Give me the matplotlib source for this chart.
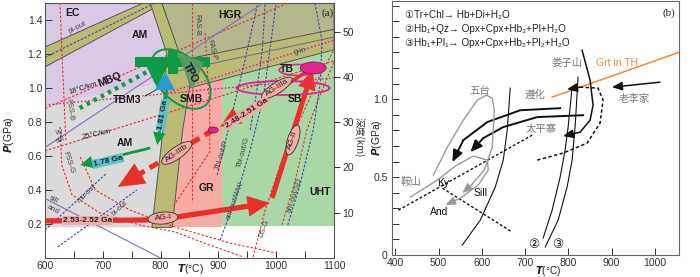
import numpy as np
import matplotlib
matplotlib.use('Agg')
import matplotlib.pyplot as plt
from matplotlib.patches import Polygon, Ellipse, FancyArrowPatch
from matplotlib.transforms import Affine2D, ScaledTranslation

plt.rcParams['font.family'] = ['Liberation Sans', 'DejaVu Sans', 'Noto Sans CJK SC']
plt.rcParams['axes.unicode_minus'] = False

# ======================= Panel (a) data =======================
T_LIM_A = (600, 1100)
P_LIM_A = (0.0, 1.5)
DEPTH_LIM = (0, 56.3)
xticks_a = [600, 700, 800, 900, 1000, 1100]
xminor_a = [650, 750, 850, 950, 1050]
yticks_a = [0.2, 0.4, 0.6, 0.8, 1.0, 1.2, 1.4]
depth_ticks = [10, 20, 30, 40, 50]

# facies fields
purple_T = [600, 600, 782, 811, 806]
purple_P = [0.90, 1.50, 1.50, 1.20, 1.03]
gray_T = [600, 600, 806, 804, 785]
gray_P = [0.18, 0.90, 1.03, 0.75, 0.18]
gr_T = [810, 906, 906, 810]
gr_P = [0.18, 0.18, 1.10, 1.10]
uht_T = [906, 1100, 1100, 906]
uht_P = [0.19, 0.19, 1.30, 1.30]
hgr_T = [802, 1100, 1100, 835]
hgr_P = [1.50, 1.50, 1.34, 1.16]
gin_T = [816, 1100, 1100, 816]
gin_P = [1.15, 1.345, 1.225, 0.97]
plout_T = [600, 770, 805, 600]
plout_P = [1.241, 1.50, 1.50, 1.124]
vband_T = [782, 811, 806, 804, 785, 820, 838, 851, 835, 802]
vband_P = [1.50, 1.20, 1.00, 0.75, 0.18, 0.18, 0.75, 1.02, 1.18, 1.50]

# red dotted reaction / geotherm lines
fssb_T = [626, 629, 633, 636]
fssb_P = [1.50, 1.224, 0.929, 0.694]
fssg_T = [626, 629, 647, 695, 764, 825, 885, 943]
fssg_P = [0.771, 0.547, 0.371, 0.265, 0.194, 0.153, 0.076, 0.006]
r5_T = [661, 687, 747, 825, 920, 1001]
r5_P = [0.594, 0.40, 0.282, 0.182, 0.088, 0.029]
g18_T = [600, 1020]
g18_P = [0.88, 1.50]
g25_T = [600, 1100]
g25_P = [0.63, 1.16]
fasb_T = [854, 854]
fasb_P = [1.50, 0.33]
fasp_T = [877, 885, 885, 821]
fasp_P = [1.324, 0.871, 0.624, 0.30]
dsg_T = [960, 981, 1010, 1041, 1076, 1100]
dsg_P = [0.006, 0.282, 0.576, 0.812, 1.076, 1.224]
r9_T = [1010, 1033, 1053, 1076, 1100]
r9_P = [0.194, 0.459, 0.753, 0.959, 1.153]
# magenta dotted
m1_T = [600, 1100]
m1_P = [0.90, 1.06]
m2_T = [816, 1100]
m2_P = [0.976, 1.282]
# blue dashed
bpl_T = [600, 790]
bpl_P = [1.18, 1.50]
tbip_T = [898, 917, 946, 968]
tbip_P = [0.488, 0.753, 1.165, 1.50]
tbig_T = [955, 964, 976, 981]
tbig_P = [0.753, 0.929, 1.224, 1.50]
amww_T = [903, 929, 955, 977, 989, 1000]
amww_P = [0.106, 0.341, 0.635, 0.929, 1.224, 1.50]
amsd_T = [1020, 1041, 1064, 1077, 1079, 1067]
amsd_P = [0.194, 0.429, 0.753, 1.047, 1.282, 1.50]
mu_T = [600, 707]
mu_P = [0.165, 0.50]
bi_T = [622, 759]
bi_P = [0.065, 0.40]
gin_line_T = [816, 1100]
gin_line_P = [1.09, 1.30]
# purple thin lines
kysill_T = [600, 978]
kysill_P = [0.65, 1.50]
silland_T = [600, 800]
silland_P = [0.35, 0.0]

# green symbols
mbq_T = [660, 776]
mbq_P = [0.882, 1.094]
tpo_bar_T = [756, 885, 885, 756]
tpo_bar_P = [1.182, 1.182, 1.124, 1.124]
tpo_vbar_T = [813, 830, 830, 813]
tpo_vbar_P = [1.224, 1.224, 1.08, 1.08]
tpo_tri_T = [776, 811, 794]
tpo_tri_P = [1.124, 1.124, 1.0]
tpo_dark_T = [828, 875, 855]
tpo_dark_P = [1.21, 1.15, 0.99]
tbm3_T = [790, 825, 808]
tbm3_P = [0.988, 0.988, 1.094]
green_ell = (835, 1.053)
arr181_T = [811, 794]
arr181_P = [0.988, 0.665]
arr178_T = [782, 661]
arr178_P = [0.647, 0.547]

# red P-T paths
agi_T = [600, 782, 816, 989]
agi_P = [0.218, 0.224, 0.235, 0.324]
agii_T = [993, 1063]
agii_P = [0.353, 1.106]
agiiia_T = [1063, 903]
agiiia_P = [1.118, 0.771]
agiiib_T = [891, 726]
agiiib_P = [0.753, 0.418]

# ellipses (centre T, P)
tb_fill = (1064, 1.118)
tb_ring = (1038, 1.106)
sb_ring = (1012, 1.0)
small_mag = (891, 0.753)

# ======================= Panel (b) data =======================
T_LIM_B = (392, 1056)
P_LIM_B = (0.0, 1.63)
xticks_b = [400, 500, 600, 700, 800, 900, 1000]
yticks_b = [0, 0.5, 1.0]
yticklabels_b = ['0', '0.5', '1.0']
yminor_b = [0.1, 0.2, 0.3, 0.4, 0.6, 0.7, 0.8, 0.9, 1.1, 1.2, 1.3, 1.4, 1.5, 1.6]

grt_T = [762.5, 1056]
grt_P = [1.013, 1.301]
re1_T = [554.7, 596.3, 630.9, 649.4, 658.6, 665.5]
re1_P = [0.064, 0.224, 0.436, 0.609, 0.801, 1.071]
re2_T = [741.7, 762.5, 781, 792.5, 799.5, 808.7]
re2_P = [0.109, 0.288, 0.5, 0.673, 0.821, 1.077]
re3_T = [746.4, 776.4, 797.1, 808.7, 815.6, 822.5]
re3_P = [0.051, 0.224, 0.436, 0.609, 0.821, 1.141]
lzs_T = [831.8, 850.3, 857.2, 850.3, 827.2, 787.9]
lzs_P = [1.314, 1.122, 0.962, 0.865, 0.788, 0.763]
zh_T = [781, 688.6, 612.4, 557, 531.6]
zh_P = [0.942, 0.929, 0.853, 0.737, 0.596]
tpz_T = [834.1, 727.9, 649.4, 603.2, 573.2]
tpz_P = [0.897, 0.885, 0.821, 0.75, 0.66]
llj_T = [1011.9, 901]
llj_P = [1.109, 1.077]
dash_T = [727.9, 787.9, 843.3, 873.3, 880.3, 868.7, 827.2, 797.1]
dash_P = [0.609, 0.654, 0.718, 0.846, 0.994, 1.071, 1.077, 1.064]
kysill_b_T = [406.9, 716.3]
kysill_b_P = [0.288, 0.769]
kyand_b_T = [508.5, 670.2]
kyand_b_P = [0.429, 0.147]
wt_T = [487.7, 520.1, 557, 589.3, 610.1, 624, 628.6, 624, 605.5, 573.2, 554.7]
wt_P = [0.513, 0.692, 0.865, 0.994, 1.026, 1.006, 0.929, 0.692, 0.545, 0.442, 0.397]
as_T = [434.6, 497, 538.5, 580.1, 612.4, 614.7, 591.6, 550.1, 515.5]
as_P = [0.372, 0.481, 0.571, 0.635, 0.609, 0.545, 0.449, 0.365, 0.321]

# ======================= colours =======================
C_PURPLE = '#D9C9E5'
C_GRAY = '#DADADA'
C_PINK = '#F6ABA5'
C_GREEN = '#A8D8A6'
C_OLIVE = '#BBBA74'
C_HGR = '#B4B78C'
C_RED = '#E8302A'
C_MAG = '#E4238C'
C_BLUE = '#4B3FA6'
C_GRN = '#0F9A48'
C_CYAN = '#5BC5C9'
C_PBOX = '#F4AAA6'
C_LBLUE = '#2A9AD8'
C_EDGE = '#555555'

fig = plt.figure(figsize=(7.0, 2.77), dpi=100)
axA = fig.add_axes([45 / 700, 19 / 277, 289 / 700, 255 / 277])
axB = fig.add_axes([392 / 700, 22 / 277, 287 / 700, 254 / 277])

axA.set_xlim(*T_LIM_A)
axA.set_ylim(*P_LIM_A)
axB.set_xlim(*T_LIM_B)
axB.set_ylim(*P_LIM_B)


def poly(ax, T, P, fc, ec='none', lw=0.0, z=1, alpha=1.0):
    ax.add_patch(Polygon(np.column_stack([T, P]), closed=True, fc=fc, ec=ec,
                         lw=lw, zorder=z, alpha=alpha))


def px_ellipse(ax, c, w, h, ang, fc, ec, lw, z):
    tr = Affine2D() + ScaledTranslation(c[0], c[1], ax.transData)
    ax.add_patch(Ellipse((0, 0), w, h, angle=ang, transform=tr, fc=fc, ec=ec,
                         lw=lw, zorder=z))


def simple_arrow(ax, p0, p1, color, tail, hl, hw, z=6):
    ax.add_patch(FancyArrowPatch(p0, p1, arrowstyle=f'simple,head_length={hl},head_width={hw},tail_width={tail}',
                                 mutation_scale=1, fc=color, ec='none', lw=0, zorder=z,
                                 shrinkA=0, shrinkB=0))


def head_arrow(ax, p0, p1, color, lw, hl, hw, z=6):
    ax.add_patch(FancyArrowPatch(p0, p1, arrowstyle=f'-|>,head_length={hl},head_width={hw}',
                                 mutation_scale=1, color=color, lw=lw, zorder=z,
                                 shrinkA=0, shrinkB=0))


# ---------------- fields ----------------
poly(axA, purple_T, purple_P, C_PURPLE)
poly(axA, gray_T, gray_P, C_GRAY)
poly(axA, gr_T, gr_P, C_PINK)
poly(axA, uht_T, uht_P, C_GREEN)
poly(axA, hgr_T, hgr_P, C_HGR, ec=C_EDGE, lw=0.7)
poly(axA, gin_T, gin_P, C_OLIVE, ec=C_EDGE, lw=0.7, z=1.5)
poly(axA, plout_T, plout_P, C_OLIVE, ec=C_EDGE, lw=0.7, z=1.5)
poly(axA, vband_T, vband_P, C_OLIVE, ec=C_EDGE, lw=0.7, z=1.6)

# ---------------- lines ----------------
rd = dict(color=C_RED, lw=0.8, dashes=(2.2, 1.6), zorder=3)
for T, P in [(fssb_T, fssb_P), (fssg_T, fssg_P), (r5_T, r5_P), (g18_T, g18_P),
             (g25_T, g25_P), (fasb_T, fasb_P), (fasp_T, fasp_P), (dsg_T, dsg_P), (r9_T, r9_P)]:
    axA.plot(T, P, **rd)
md = dict(color=C_MAG, lw=1.0, dashes=(1.2, 1.4), zorder=3)
axA.plot(m1_T, m1_P, **md)
axA.plot(m2_T, m2_P, **md)
bd = dict(color=C_BLUE, lw=0.8, dashes=(2.2, 1.4), zorder=3)
for T, P in [(bpl_T, bpl_P), (tbip_T, tbip_P), (tbig_T, tbig_P), (amww_T, amww_P),
             (amsd_T, amsd_P), (mu_T, mu_P), (bi_T, bi_P)]:
    axA.plot(T, P, **bd)
axA.plot(gin_line_T, gin_line_P, color='#6A6A8A', lw=0.7, zorder=3)
axA.plot(kysill_T, kysill_P, color='#8270C4', lw=0.8, zorder=3)
axA.plot(silland_T, silland_P, color='#8270C4', lw=0.8, zorder=3)

# ---------------- green symbols ----------------
axA.plot(mbq_T, mbq_P, color=C_GRN, lw=3.2, dashes=(0.8, 1.0), zorder=4)
px_ellipse(axA, green_ell, 44, 72, 45, 'none', C_GRN, 1.4, 5)
poly(axA, tpo_bar_T, tpo_bar_P, C_GRN, z=5)
poly(axA, tpo_vbar_T, tpo_vbar_P, C_GRN, z=5)
poly(axA, tpo_tri_T, tpo_tri_P, C_GRN, z=5)
poly(axA, tpo_dark_T, tpo_dark_P, '#5E9A68', z=5.2, alpha=0.9)
poly(axA, tbm3_T, tbm3_P, C_LBLUE, z=5.1)
axA.plot([773, 795], [0.953, 0.994], color='#222222', lw=0.6, zorder=5)
simple_arrow(axA, (arr181_T[0], arr181_P[0]), (arr181_T[1], arr181_P[1]), C_GRN, 2.0, 9, 9)
simple_arrow(axA, (arr178_T[0], arr178_P[0]), (arr178_T[1], arr178_P[1]), C_GRN, 2.0, 9, 9)

# ---------------- red paths ----------------
axA.plot(agi_T[:3], agi_P[:3], color=C_RED, lw=3.8, solid_capstyle='butt', zorder=6)
simple_arrow(axA, (agi_T[2], agi_P[2]), (agi_T[3], agi_P[3]), C_RED, 3.8, 16, 15)
simple_arrow(axA, (agii_T[0], agii_P[0]), (agii_T[1], agii_P[1]), C_RED, 3.6, 14, 13)
simple_arrow(axA, (agiiia_T[0], agiiia_P[0]), (agiiia_T[1], agiiia_P[1]), C_RED, 2.6, 15, 13)
# dashed AG-IIIb
mid_T = agiiib_T[0] + 0.72 * (agiiib_T[1] - agiiib_T[0])
mid_P = agiiib_P[0] + 0.72 * (agiiib_P[1] - agiiib_P[0])
axA.plot([agiiib_T[0], mid_T], [agiiib_P[0], mid_P], color=C_RED, lw=3.6,
         dashes=(2.0, 1.2), zorder=6)
simple_arrow(axA, (mid_T, mid_P), (agiiib_T[1], agiiib_P[1]), C_RED, 3.6, 19, 17)

# ellipses
px_ellipse(axA, sb_ring, 93, 14, 0, 'none', C_MAG, 1.3, 6.5)
px_ellipse(axA, tb_ring, 38, 11, 0, 'none', C_MAG, 1.2, 6.5)
px_ellipse(axA, tb_fill, 26, 12, 0, C_MAG, '#7a1050', 0.5, 6.6)
px_ellipse(axA, small_mag, 10, 6, 0, C_MAG, '#7a1050', 0.5, 6.6)


def label_ell(text, c, w, h, ang):
    px_ellipse(axA, c, w, h, ang, C_PBOX, '#333333', 0.6, 7)
    axA.text(c[0], c[1], text, rotation=ang, ha='center', va='center', fontsize=6,
             color='#222222', zorder=8, rotation_mode='anchor')


label_ell('AG-I', (804, 0.235), 30, 12, 5)
label_ell('AG-II', (1029, 0.694), 31, 11, 72)
label_ell('AG-IIIa', (1001, 1.0), 36, 11, 33)
label_ell('AG-IIIb', (828, 0.618), 36, 12, 35)

# age labels in boxes
axA.text(673, 0.218, '2.53-2.52 Ga', fontsize=6, fontweight='bold', ha='center', va='center',
         color='#222222', zorder=8,
         bbox=dict(boxstyle='square,pad=0.12', fc=C_PBOX, ec='none'))
axA.text(949, 0.853, '2.48-2.51 Ga', fontsize=6, fontweight='bold', ha='center', va='center',
         rotation=33, rotation_mode='anchor', color='#222222', zorder=8,
         bbox=dict(boxstyle='square,pad=0.12', fc=C_PBOX, ec='none'))
axA.text(804, 0.841, '1.81 Ga', fontsize=6, fontweight='bold', ha='center', va='center',
         rotation=80, rotation_mode='anchor', color='#222222', zorder=8,
         bbox=dict(boxstyle='square,pad=0.12', fc=C_CYAN, ec='none'))
axA.text(709, 0.571, '1.78 Ga', fontsize=6, fontweight='bold', ha='center', va='center',
         rotation=13, rotation_mode='anchor', color='#222222', zorder=8,
         bbox=dict(boxstyle='square,pad=0.12', fc=C_CYAN, ec='none'))

# field / locality labels
bold_labels = [('EC', 648, 1.441, 0), ('AM', 764, 1.312, 0), ('HGR', 920, 1.429, 0),
               ('AM', 738, 0.676, 0), ('GR', 880, 0.412, 0), ('UHT', 1076, 0.388, 0),
               ('SMB', 854, 0.935, 0), ('TPO', 851, 1.088, -62), ('TB', 1019, 1.112, 0),
               ('SB', 1032, 0.935, 0), ('TBM3', 742, 0.929, 0), ('MBQ', 712, 1.047, 22)]
for s, T, P, r in bold_labels:
    axA.text(T, P, s, fontsize=7.5, fontweight='bold', ha='center', va='center', rotation=r,
             rotation_mode='anchor', color='#1a1a1a', zorder=9)

small_labels = [('18°C/km', 666, 1.0, 17, '#222222'), ('25°C/km', 690, 0.724, 12, '#222222'),
                ('pl-out', 657, 1.353, 27, '#444444'), ('FSS-B', 643, 0.87, -82, '#444444'),
                ('FSS-G', 640, 0.56, -72, '#444444'), ('ky', 626, 0.742, 22, '#444444'),
                ('sill', 626, 0.694, 22, '#444444'), ('sill', 614, 0.341, -28, '#444444'),
                ('and', 614, 0.282, -28, '#444444'), ('mu-out', 673, 0.382, 45, '#444444'),
                ('bi-out', 730, 0.294, 42, '#444444'), ('FAS-B', 863, 1.37, -90, '#444444'),
                ('FAS-P', 889, 1.224, -75, '#444444'), ('g-in', 1041, 1.218, 13, '#444444'),
                ('Tbi-out/P', 906, 0.606, 72, '#444444'), ('Tbi-out/G', 944, 0.624, 75, '#444444'),
                ('am-out/WW', 929, 0.341, 70, '#444444'), ('am-out/SD', 1032, 0.371, 72, '#444444'),
                ('DS-G', 979, 0.176, 70, '#444444')]
for s, T, P, r, c in small_labels:
    axA.text(T, P, s, fontsize=5.5, ha='center', va='center', rotation=r,
             rotation_mode='anchor', color=c, zorder=9)
axA.text(1088, 1.441, '(a)', fontsize=8, family='Liberation Serif', ha='center', va='center',
         color='#222222', zorder=9)

# axes styling (a)
axA.set_xticks(xticks_a)
axA.set_xticks(xminor_a, minor=True)
axA.set_yticks(yticks_a)
axA.set_yticklabels([f'{v:.1f}' for v in yticks_a])
axA.tick_params(axis='both', which='both', direction='in', length=5, width=0.7,
                labelsize=7.5, colors='#333333', pad=2)
axA.tick_params(axis='y', right=False)
for sp in axA.spines.values():
    sp.set_color('#555555')
    sp.set_linewidth(0.8)
axA2 = axA.twinx()
axA2.set_ylim(*DEPTH_LIM)
axA2.set_yticks(depth_ticks)
axA2.tick_params(axis='y', direction='out', length=4, width=0.7, labelsize=7.5,
                 colors='#333333', pad=2)
for sp in axA2.spines.values():
    sp.set_visible(False)

fig.text(191 / 700, 1 - 269 / 277, r'$\mathbfit{T}$(°C)', fontsize=7.5, ha='center', va='center',
         color='#222222')
fig.text(9 / 700, 1 - 135 / 277, r'$\mathbfit{P}$(GPa)', fontsize=7.5, ha='center', va='center',
         rotation=90, color='#222222')
fig.text(359 / 700, 1 - 137 / 277, '深度(km)', fontsize=7, ha='center', va='center',
         rotation=270, color='#333333', family=['Noto Sans CJK SC', 'DejaVu Sans'])

# ======================= Panel (b) drawing =======================
axB.plot(grt_T, grt_P, color='#F0883A', lw=1.1, zorder=3)
for T, P in [(re1_T, re1_P), (re2_T, re2_P), (re3_T, re3_P)]:
    axB.plot(T, P, color='#111111', lw=0.8, zorder=3)
axB.plot(kysill_b_T, kysill_b_P, color='#111111', lw=1.0, dashes=(2, 1.5), zorder=3)
axB.plot(kyand_b_T, kyand_b_P, color='#111111', lw=1.0, dashes=(2, 1.5), zorder=3)


def path_arrow(ax, T, P, color, lw, hl, hw, dashes=None):
    kw = dict(color=color, lw=lw, zorder=4)
    if dashes:
        kw['dashes'] = dashes
    ax.plot(T[:-1], P[:-1], **kw)
    head_arrow(ax, (T[-2], P[-2]), (T[-1], P[-1]), color, lw, hl, hw, z=4)


path_arrow(axB, lzs_T, lzs_P, '#111111', 1.1, 6, 2.6)
path_arrow(axB, zh_T, zh_P, '#111111', 1.4, 7, 3)
path_arrow(axB, tpz_T, tpz_P, '#111111', 1.4, 7, 3)
path_arrow(axB, llj_T, llj_P, '#111111', 1.1, 6, 2.6)
path_arrow(axB, dash_T, dash_P, '#111111', 1.1, 6, 2.6, dashes=(2.2, 1.6))
path_arrow(axB, wt_T, wt_P, '#9A9A9A', 1.0, 6, 2.5)
path_arrow(axB, as_T, as_P, '#9A9A9A', 1.0, 6, 2.5)

eqs = ['①Tr+Chl→ Hb+Di+H₂O', '②Hb₁+Qz→ Opx+Cpx+Hb₂+Pl+H₂O', '③Hb₁+Pl₁→ Opx+Cpx+Hb₂+Pl₂+H₂O']
for i, s in enumerate(eqs):
    axB.text(423, 1.538 - i * 0.09, s, fontsize=7.2, ha='left', va='center', color='#222222',
             family=['Liberation Sans', 'DejaVu Sans', 'Noto Sans CJK SC'])
cn = [('娄子山', 797, 1.23), ('遵化', 723, 1.03), ('老李家', 952, 1.0), ('太平寨', 737, 0.81),
      ('五台', 596, 1.05), ('鞍山', 437, 0.47)]
for s, T, P in cn:
    axB.text(T, P, s, fontsize=7.5, ha='center', va='center', color='#7a7a7a',
             family=['Noto Sans CJK SC', 'DejaVu Sans'])
axB.text(913, 1.23, 'Grt in TH', fontsize=7.5, color='#F0883A', ha='center', va='center')
for s, T, P in [('Ky', 510, 0.465), ('Sill', 597, 0.40), ('And', 500, 0.275)]:
    axB.text(T, P, s, fontsize=7.5, color='#111111', ha='center', va='center')
axB.text(720, 0.065, '②', fontsize=9, ha='center', va='center', color='#111111',
         family=['DejaVu Sans', 'Noto Sans CJK SC'])
axB.text(776, 0.065, '③', fontsize=9, ha='center', va='center', color='#111111',
         family=['DejaVu Sans', 'Noto Sans CJK SC'])
axB.text(1033, 1.55, '(b)', fontsize=8, family='Liberation Serif', ha='center', va='center',
         color='#222222')

axB.set_xticks(xticks_b)
axB.set_yticks(yticks_b)
axB.set_yticklabels(yticklabels_b)
axB.set_yticks(yminor_b, minor=True)
axB.tick_params(axis='both', which='both', direction='in', length=5, width=0.7,
                labelsize=7.5, colors='#333333', pad=3)
axB.tick_params(axis='x', pad=2.5)
for sp in axB.spines.values():
    sp.set_color('#666666')
    sp.set_linewidth(0.8)
fig.text(548 / 700, 1 - 271 / 277, r'$\mathbfit{T}$(°C)', fontsize=7.2, ha='center', va='center',
         color='#222222')
fig.text(377 / 700, 1 - 138 / 277, r'$\mathbfit{P}$(GPa)', fontsize=7.5, ha='center', va='center',
         rotation=90, color='#222222')

axA.set_xlim(*T_LIM_A)
axA.set_ylim(*P_LIM_A)
axB.set_xlim(*T_LIM_B)
axB.set_ylim(*P_LIM_B)

fig.savefig('out.png', dpi=100)
